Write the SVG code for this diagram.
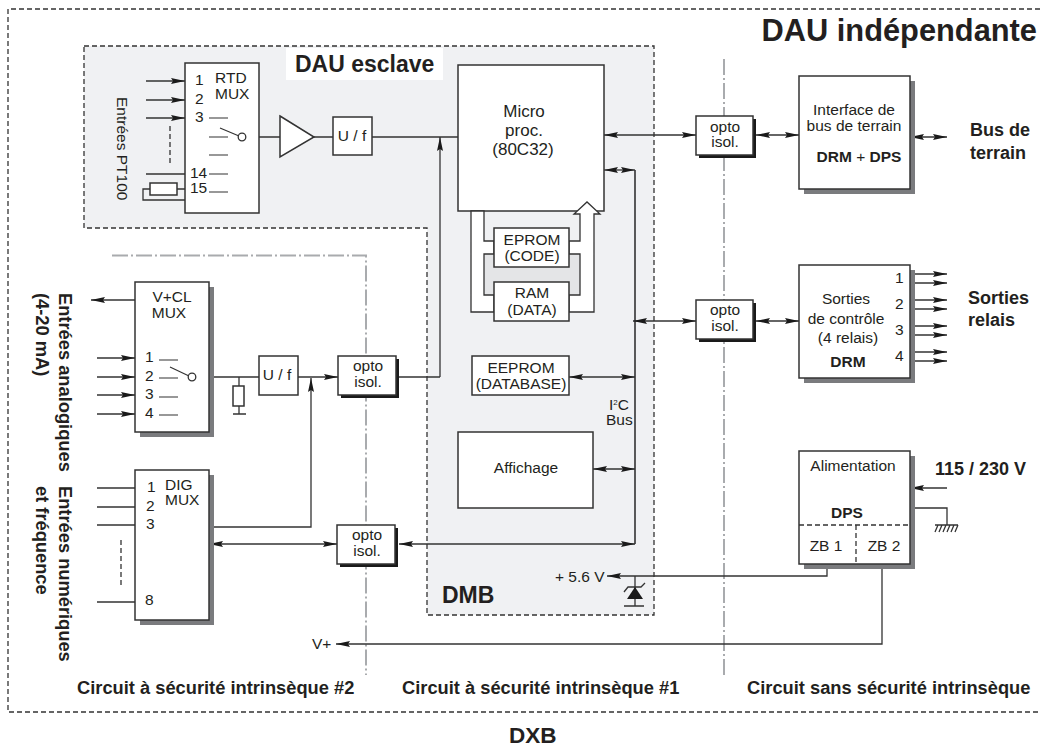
<svg xmlns="http://www.w3.org/2000/svg" width="1040" height="747" viewBox="0 0 1040 747">
<style>
text{font-family:"Liberation Sans",Arial,sans-serif;fill:#231f20;font-size:15.5px}
.b{font-weight:bold}
.m{text-anchor:middle}
.h{font-size:18px}
.f{font-size:18.3px}
.box{fill:#fff;stroke:#333;stroke-width:1.5}
.sg{fill:#7a7b7e}
.sk{fill:#1a1a1a}
.l{fill:none;stroke:#333;stroke-width:1.3}
.t{fill:none;stroke:#333;stroke-width:1.2}
.bus{fill:#fff;stroke:#333;stroke-width:1.3}
.a{marker-end:url(#ah)}
.d{marker-start:url(#ah);marker-end:url(#ah)}
.dash{fill:none;stroke:#333;stroke-width:1.3;stroke-dasharray:5 3}
.dd{fill:none;stroke:#a9abae;stroke-width:2;stroke-dasharray:16 3 2 3}
</style>
<defs>
<marker id="ah" markerUnits="userSpaceOnUse" markerWidth="14" markerHeight="8" refX="14" refY="4" orient="auto-start-reverse"><path d="M0 1L14 4L0 7L2 4Z" fill="#1a1a1a"/></marker>
</defs>
<rect width="1040" height="747" fill="#fff"/>
<g id="zones">
<path d="M1040 9H8V712H1040" class="dash"/>
<path d="M84 46H654V615H427V228H84Z" fill="#f0f1f3" stroke="#333" stroke-width="1.3" stroke-dasharray="5 3"/>
<rect x="286" y="48" width="157" height="32" fill="#fff"/>
<path d="M112 255.500H366V675" class="dd"/>
<path d="M724 59V675" class="dd"/>
<rect x="484" y="254" width="96" height="41" fill="#e4e5e7"/>
</g>
<g id="connectors">
<path d="M146 81H185" class="l a"/><path d="M146 100H185" class="l a"/><path d="M146 118H185" class="l a"/>
<path d="M170 126V163" class="dash"/>
<path d="M146 174H185M177 189H185M150 189H143V200H185" class="l"/>
<path d="M246 137H280M314 137H333M372 137H458" class="l"/>
<path d="M440 377V137" class="l a"/>
<path d="M396 377H440" class="l"/>
<path d="M135 300H91" class="l a"/>
<path d="M97 358H135" class="l a"/><path d="M97 377H135" class="l a"/><path d="M97 395H135" class="l a"/><path d="M97 414H135" class="l a"/>
<path d="M196 377H259M239 377V386M239 406V414M233 414H246" class="l"/>
<path d="M298 377H338" class="l a"/>
<path d="M209 527H311V378" class="l a"/>
<path d="M97 488H135M97 507H135M97 525H135M97 602H135" class="l"/>
<path d="M121 540V587" class="dash"/>
<path d="M209 544H337" class="l d"/>
<path d="M399 544H635" class="l d"/>
<path d="M604 135H696" class="l d"/>
<path d="M756 135H799" class="l d"/>
<path d="M604 170H635" class="l d"/>
<path d="M635 170V544" fill="none" stroke="#333" stroke-width="1.6"/>
<path d="M633 321H696" class="l d"/>
<path d="M756 321H799" class="l d"/>
<path d="M569 377H635" class="l d"/>
<path d="M593 469H635" class="l d"/>
<path d="M910 137H947" class="l d"/>
<path d="M910 274H947" class="l a"/><path d="M910 283H947" class="l a"/><path d="M910 300H947" class="l a"/><path d="M910 309H947" class="l a"/><path d="M910 326H947" class="l a"/><path d="M910 335H947" class="l a"/><path d="M910 352H947" class="l a"/><path d="M910 361H947" class="l a"/>
<path d="M947 488H910" class="l a"/>
<path d="M910 508H947V525M935 525H958M935 532L938 525M939 532L942 525M943 532L946 525M947 532L950 525M951 532L954 525M955 532L958 525" class="l"/>
<path d="M827 564V576H607" class="l a"/>
<path d="M882 564V644H336" class="l a"/>
<path d="M635 576V606M624 606H644M624 592L628 587H641L645 583" class="l"/>
<path d="M627 599L635 587L643 599Z" fill="#1a1a1a"/>
</g>
<g id="rtd-mux">
<rect x="185" y="63" width="74" height="150" class="box"/>
<text x="195" y="85">1</text><text x="195" y="104">2</text><text x="195" y="122">3</text><text x="190" y="178">14</text><text x="190" y="193">15</text>
<text x="215" y="83">RTD</text><text x="215" y="99">MUX</text>
<path d="M209 118H228M209 137H228M209 155H228M209 174H228M209 192H228M220 128L239 136" class="t"/>
<circle cx="242" cy="137" r="3.8" fill="#fff" stroke="#333" stroke-width="1.3"/>
<rect x="150" y="183" width="27" height="12" class="box"/>
<text transform="translate(117,97) rotate(90)">Entrées PT100</text>
</g>
<g id="ampli"><path d="M280 116L314 137L280 157Z" class="box"/></g>
<g id="uf1"><rect x="333" y="117" width="39" height="38" class="box"/><text x="352" y="141" class="m">U / f</text></g>
<g id="micro"><rect x="458" y="65" width="146" height="146" class="box"/>
<text x="524" y="117" class="m" style="font-size:17px">Micro</text><text x="524" y="136" class="m" style="font-size:17px">proc.</text><text x="523" y="155" class="m" style="font-size:17px">(80C32)</text></g>
<g id="buses">
<path d="M471 211V312H494V295H484V254H494V241H484V211Z" class="bus"/>
<path d="M569 241H580V214H574L587 202L600 214H594V312H569V295H580V254H569Z" class="bus"/>
</g>
<g id="eprom"><rect x="494" y="228" width="75" height="39" class="box"/><text x="532" y="245" class="m">EPROM</text><text x="532" y="261" class="m">(CODE)</text></g>
<g id="ram"><rect x="494" y="282" width="75" height="39" class="box"/><text x="532" y="298" class="m">RAM</text><text x="532" y="315" class="m">(DATA)</text></g>
<g id="eeprom"><rect x="472" y="356" width="97" height="39" class="box"/><text x="521" y="373" class="m">EEPROM</text><text x="521" y="389" class="m">(DATABASE)</text></g>
<g id="affichage"><rect x="458" y="432" width="135" height="76" class="box"/><text x="526" y="473" class="m">Affichage</text></g>
<g id="opto1"><rect x="699" y="119" width="57" height="39" class="sk"/><rect x="696" y="116" width="57" height="39" class="box"/><text x="725" y="132" class="m">opto</text><text x="725" y="147" class="m">isol.</text></g>
<g id="opto2"><rect x="699" y="303" width="57" height="39" class="sk"/><rect x="696" y="300" width="57" height="39" class="box"/><text x="725" y="315" class="m">opto</text><text x="725" y="331" class="m">isol.</text></g>
<g id="opto3"><rect x="341" y="359" width="58" height="39" class="sk"/><rect x="338" y="356" width="58" height="39" class="box"/><text x="368" y="371" class="m">opto</text><text x="368" y="387" class="m">isol.</text></g>
<g id="opto4"><rect x="340" y="528" width="58" height="39" class="sk"/><rect x="337" y="525" width="58" height="39" class="box"/><text x="367" y="540" class="m">opto</text><text x="367" y="556" class="m">isol.</text></g>
<g id="vcl-mux"><rect x="140" y="287" width="74" height="150" class="sg"/><rect x="135" y="282" width="74" height="150" class="box"/>
<text x="172" y="302" class="m">V+CL</text><text x="169" y="318" class="m">MUX</text>
<text x="145" y="362">1</text><text x="145" y="381">2</text><text x="145" y="399">3</text><text x="145" y="418">4</text>
<path d="M159 360H178M159 378H178M159 397H178M159 415H178M170 367L189 376" class="t"/>
<circle cx="192" cy="377" r="3.8" fill="#fff" stroke="#333" stroke-width="1.3"/>
</g>
<g id="res"><rect x="233" y="386" width="11" height="20" class="box"/></g>
<g id="uf2"><rect x="259" y="356" width="39" height="39" class="box"/><text x="277" y="380" class="m">U / f</text></g>
<g id="dig-mux"><rect x="140" y="475" width="74" height="150" class="sg"/><rect x="135" y="470" width="74" height="150" class="box"/>
<text x="147" y="492">1</text><text x="146" y="511">2</text><text x="146" y="529">3</text><text x="145" y="605">8</text>
<text x="165" y="490">DIG</text><text x="165" y="505">MUX</text></g>
<g id="interface"><rect x="804" y="81" width="111" height="113" class="sg"/><rect x="799" y="76" width="111" height="113" class="box"/>
<text x="854" y="115" class="m">Interface de</text><text x="854" y="131" class="m">bus de terrain</text><text x="859" y="162" class="m"><tspan class="b">DRM</tspan> + <tspan class="b">DPS</tspan></text></g>
<g id="sorties"><rect x="804" y="270" width="111" height="113" class="sg"/><rect x="799" y="265" width="111" height="113" class="box"/>
<text x="846" y="304" class="m">Sorties</text><text x="846" y="324" class="m">de contrôle</text><text x="848" y="343" class="m">(4 relais)</text><text x="848" y="367" class="m b">DRM</text>
<text x="895" y="283">1</text><text x="895" y="309">2</text><text x="895" y="335">3</text><text x="895" y="361">4</text></g>
<g id="alim"><rect x="804" y="456" width="111" height="113" class="sg"/><rect x="799" y="451" width="111" height="113" class="box"/>
<text x="853" y="471" class="m">Alimentation</text><text x="847" y="518" class="m b">DPS</text>
<path d="M799 525H910M856 525V564" class="dash"/>
<text x="826" y="551" class="m">ZB 1</text><text x="884" y="551" class="m">ZB 2</text></g>
<g id="labels">
<text x="1037" y="41" text-anchor="end" class="b" style="font-size:30.800px">DAU indépendante</text>
<text x="295" y="72" class="b" style="font-size:23px">DAU esclave</text>
<text x="442" y="603" class="b" style="font-size:23px">DMB</text>
<text x="970" y="136" class="b h">Bus de</text><text x="970" y="159" class="b h">terrain</text>
<text x="968" y="304" class="b h">Sorties</text><text x="968" y="326" class="b h">relais</text>
<text x="935" y="475" class="b h">115 / 230 V</text>
<text x="609" y="410">I<tspan dy="-5" style="font-size:8px">2</tspan><tspan dy="5">C</tspan></text><text x="606" y="425">Bus</text>
<text x="555" y="582">+ 5.6 V</text>
<text x="312" y="649">V+</text>
<text transform="translate(59,293) rotate(90)" class="b f">Entrées analogiques</text>
<text transform="translate(36,293) rotate(90)" class="b f">(4-20 mA)</text>
<text transform="translate(59,486) rotate(90)" class="b f">Entrées numériques</text>
<text transform="translate(36,486) rotate(90)" class="b f">et fréquence</text>
<text x="77" y="694" class="b f">Circuit à sécurité intrinsèque #2</text>
<text x="402" y="694" class="b f">Circuit à sécurité intrinsèque #1</text>
<text x="747" y="694" class="b f">Circuit sans sécurité intrinsèque</text>
<text x="509" y="743" class="b" style="font-size:22.500px">DXB</text>
</g>
</svg>
